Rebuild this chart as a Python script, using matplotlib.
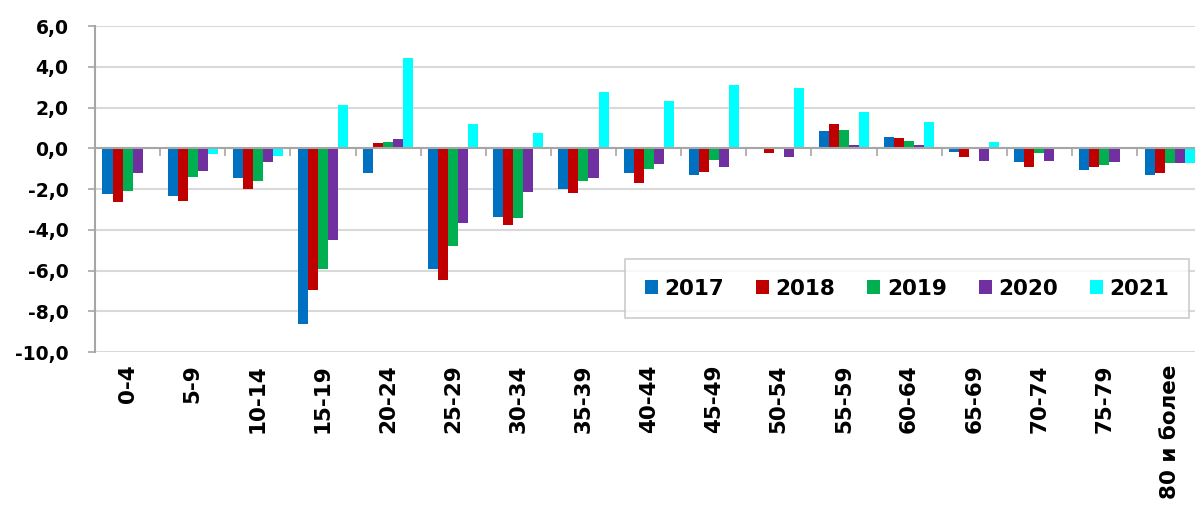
import numpy as np
import matplotlib
matplotlib.use("Agg")
import matplotlib.pyplot as plt
from matplotlib.ticker import FuncFormatter

# age groups and yearly change values
age_groups = ['0-4', '5-9', '10-14', '15-19', '20-24', '25-29', '30-34', '35-39',
              '40-44', '45-49', '50-54', '55-59', '60-64', '65-69', '70-74', '75-79',
              '80 и более']
years = ['2017', '2018', '2019', '2020', '2021']

v2017 = [-2.26, -2.33, -1.48, -8.64, -1.23, -5.90, -3.39, -2.02, -1.20, -1.30,
         0.03, 0.87, 0.57, -0.16, -0.67, -1.07, -1.31]
v2018 = [-2.62, -2.59, -2.00, -6.97, 0.25, -6.48, -3.77, -2.18, -1.72, -1.18,
         -0.25, 1.20, 0.52, -0.41, -0.90, -0.93, -1.23]
v2019 = [-2.08, -1.41, -1.62, -5.90, 0.31, -4.79, -3.44, -1.59, -1.03, -0.57,
         0.03, 0.90, 0.34, -0.03, -0.21, -0.82, -0.74]
v2020 = [-1.20, -1.11, -0.69, -4.51, 0.44, -3.66, -2.13, -1.48, -0.77, -0.93,
         -0.41, 0.18, 0.16, -0.62, -0.61, -0.69, -0.74]
v2021 = [0.08, -0.28, -0.38, 2.13, 4.43, 1.18, 0.77, 2.75, 2.33, 3.10,
         2.95, 1.77, 1.28, 0.31, -0.02, -0.02, -0.74]

series = [v2017, v2018, v2019, v2020, v2021]
colors = ['#0070C0', '#C00000', '#00B050', '#7030A0', '#00FFFF']

plt.rcParams['font.family'] = 'DejaVu Sans'
plt.rcParams['font.weight'] = 'bold'

fig = plt.figure(figsize=(11.95, 5.11), dpi=100)
ax = fig.add_axes([0.0795, 0.311, 0.9265, 0.638])

x = np.arange(len(age_groups))
w = 0.154
for k, (vals, c, yr) in enumerate(zip(series, colors, years)):
    ax.bar(x + (k - 2) * w, vals, width=w, color=c, label=yr, zorder=3)

ax.set_xlim(-0.5, len(age_groups) - 0.5)
ax.set_ylim(-10, 6)
ax.set_yticks(np.arange(-10, 7, 2))
ax.yaxis.set_major_formatter(FuncFormatter(lambda v, p: f"{v:.1f}".replace('.', ',')))
ax.grid(axis='y', color='#D9D9D9', lw=1.5, zorder=0)
ax.tick_params(axis='y', length=5, width=1.2, color='#A6A6A6', labelsize=13.5, pad=14)

for s in ['top', 'right']:
    ax.spines[s].set_visible(False)
ax.spines['left'].set_color('#A6A6A6')
ax.spines['left'].set_linewidth(1.5)

# category axis sits on the zero line, tick marks between groups
ax.spines['bottom'].set_position(('data', 0))
ax.spines['bottom'].set_color('#A6A6A6')
ax.spines['bottom'].set_linewidth(1.5)
ax.spines['bottom'].set_zorder(4)
ax.set_xticks(x[:-1] + 0.5)
ax.set_xticklabels([])
ax.tick_params(axis='x', length=6, width=1.2, color='#A6A6A6', direction='out')

# labels below the plot area
sec = ax.secondary_xaxis(0)
sec.set_xticks(x)
sec.set_xticklabels(age_groups, rotation=90, fontsize=15.5, fontweight='bold', va='top')
sec.tick_params(length=0, pad=9)
sec.spines['bottom'].set_visible(False)

leg = ax.legend(loc='lower left', bbox_to_anchor=(0.479, 0.104, 0.509, 0.184),
                mode='expand', ncol=5, frameon=True, fancybox=False,
                prop={'size': 15.5, 'weight': 'bold'}, handlelength=0.6,
                handleheight=0.6, handletextpad=0.3, borderaxespad=0,
                borderpad=0.9, columnspacing=1.0)
leg.get_frame().set_edgecolor('#BFBFBF')
leg.get_frame().set_linewidth(1.2)

fig.savefig('out.png', dpi=100)
